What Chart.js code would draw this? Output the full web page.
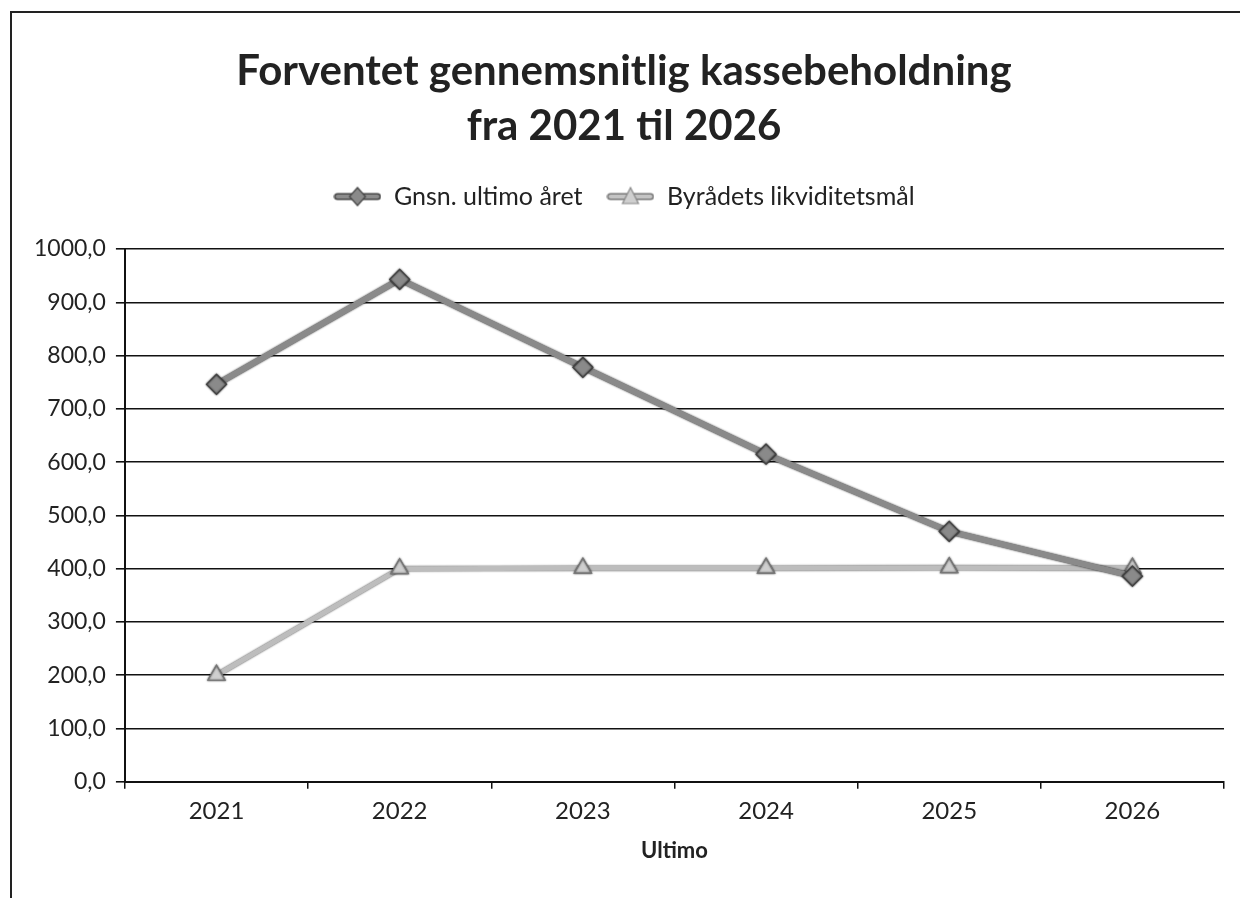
<!DOCTYPE html>
<html>
<head>
<meta charset="utf-8">
<script src="https://cdn.jsdelivr.net/npm/chart.js@4"></script>
<style>
  html, body { margin: 0; padding: 0; background: #fff; overflow: hidden; }
  #wrap { position: relative; width: 1240px; height: 898px; }
  #frame {
    position: absolute; left: 10px; top: 11px; width: 1240px; height: 900px;
    border: 2px solid #222; box-sizing: border-box; pointer-events: none;
  }
  canvas { position: absolute; left: 0; top: 0; }
</style>
</head>
<body>
<div id="wrap">
  <canvas id="chart" width="1240" height="898"></canvas>
  <div id="frame"></div>
</div>
<script>
// ── Data ───────────────────────────────────────────────────────────────────────

const years       = ["2021", "2022", "2023", "2024", "2025", "2026"];
const gnsnUltimo  = [746, 943, 778, 615, 470, 386];
const likviditet  = [200, 400, 401, 401, 402, 401];
const seriesNames = ["Gnsn. ultimo året", "Byrådets likviditetsmål"];
const titleLines  = ["Forventet gennemsnitlig kassebeholdning", "fra 2021 til 2026"];
const xTitle      = "Ultimo";

// ── Legend swatches: line with marker, like the spreadsheet legend ─────────────

function legendSwatch(kind) {
  const c = document.createElement("canvas");
  c.width = 48; c.height = 24;
  const g = c.getContext("2d");
  g.lineCap = "round";
  g.strokeStyle = kind === "diamond" ? "#444" : "#777";
  g.lineWidth = 7;
  g.beginPath(); g.moveTo(4, 12); g.lineTo(44, 12); g.stroke();
  g.strokeStyle = kind === "diamond" ? "#8c8c8c" : "#c4c4c4";
  g.lineWidth = 4;
  g.beginPath(); g.moveTo(4, 12); g.lineTo(44, 12); g.stroke();
  g.beginPath();
  if (kind === "diamond") {
    g.moveTo(24, 3); g.lineTo(32, 12); g.lineTo(24, 21); g.lineTo(16, 12);
    g.fillStyle = "#8a8a8a"; g.strokeStyle = "#444";
  } else {
    g.moveTo(24, 3); g.lineTo(32, 19); g.lineTo(16, 19);
    g.fillStyle = "#cfcfcf"; g.strokeStyle = "#888";
  }
  g.closePath(); g.lineWidth = 1.2; g.fill(); g.stroke();
  return c;
}

// soft dark edge around the thick lines
const edgePlugin = {
  id: "edge",
  beforeDatasetDraw(chart, args) {
    const ctx = chart.ctx;
    ctx.save();
    ctx.shadowColor = args.index === 0 ? "rgba(0,0,0,0.85)" : "rgba(0,0,0,0.7)";
    ctx.shadowBlur = 2;
  },
  afterDatasetDraw(chart) {
    chart.ctx.restore();
  },
};

Chart.defaults.font.family = "Lato, 'Open Sans', sans-serif";
Chart.defaults.color = "#222";

new Chart(document.getElementById("chart"), {
  type: "line",
  data: {
    labels: years,
    datasets: [
      {
        label: seriesNames[0],
        data: gnsnUltimo,
        xAxisID: "x",
        yAxisID: "y",
        borderColor: "#8a8a8a",
        borderWidth: 6,
        pointStyle: "rectRot",
        pointRadius: 10,
        pointBackgroundColor: "#8a8a8a",
        pointBorderColor: "#444",
        pointBorderWidth: 1.2,
        tension: 0,
        legendSwatch: legendSwatch("diamond"),
      },
      {
        label: seriesNames[1],
        data: likviditet,
        xAxisID: "x",
        yAxisID: "y",
        borderColor: "#bdbdbd",
        borderWidth: 5,
        pointStyle: "triangle",
        pointRadius: 10,
        pointBackgroundColor: "#cfcfcf",
        pointBorderColor: "#777",
        pointBorderWidth: 1.2,
        tension: 0,
        legendSwatch: legendSwatch("triangle"),
      },
    ],
  },
  options: {
    responsive: false,
    animation: false,
    layout: { padding: { left: 24, right: 16, top: 0, bottom: 30 } },
    plugins: {
      title: {
        display: true,
        text: titleLines,
        color: "#222",
        font: { size: 42, weight: "bold", lineHeight: 1.31 },
        padding: { top: 44, bottom: 6 },
      },
      legend: {
        position: "top",
        labels: {
          usePointStyle: true,
          pointStyleWidth: 48,
          color: "#222",
          font: { size: 25 },
          padding: 24,
          generateLabels(chart) {
            return chart.data.datasets.map((ds, i) => ({
              text: ds.label,
              pointStyle: ds.legendSwatch,
              datasetIndex: i,
              fillStyle: "#fff",
              strokeStyle: "#fff",
              lineWidth: 0,
              fontColor: "#222",
            }));
          },
        },
      },
      tooltip: { enabled: false },
    },
    scales: {
      x: {
        offset: true,
        grid: {
          offset: true,
          drawOnChartArea: false,
          color: "#111",
          lineWidth: 1.5,
          tickLength: 7,
        },
        border: { color: "#111", width: 2 },
        ticks: { color: "#222", font: { size: 24 }, padding: 8 },
        title: {
          display: true,
          text: xTitle,
          color: "#222",
          font: { size: 22, weight: "bold" },
          padding: { top: 4 },
        },
      },
      y: {
        min: 0,
        max: 1000,
        grid: { color: "#111", lineWidth: 1.6, tickLength: 9 },
        border: { color: "#111", width: 2 },
        ticks: {
          stepSize: 100,
          color: "#222",
          font: { size: 23 },
          padding: 10,
          callback: v => v.toFixed(1).replace(".", ","),
        },
      },
      // empty spacer between the legend and the plot area
      gap: {
        type: "category",
        position: "top",
        grid: { display: false },
        border: { display: false },
        ticks: { display: false },
        afterFit: s => { s.height = 30; },
      },
    },
  },
  plugins: [edgePlugin],
});
</script>
</body>
</html>
